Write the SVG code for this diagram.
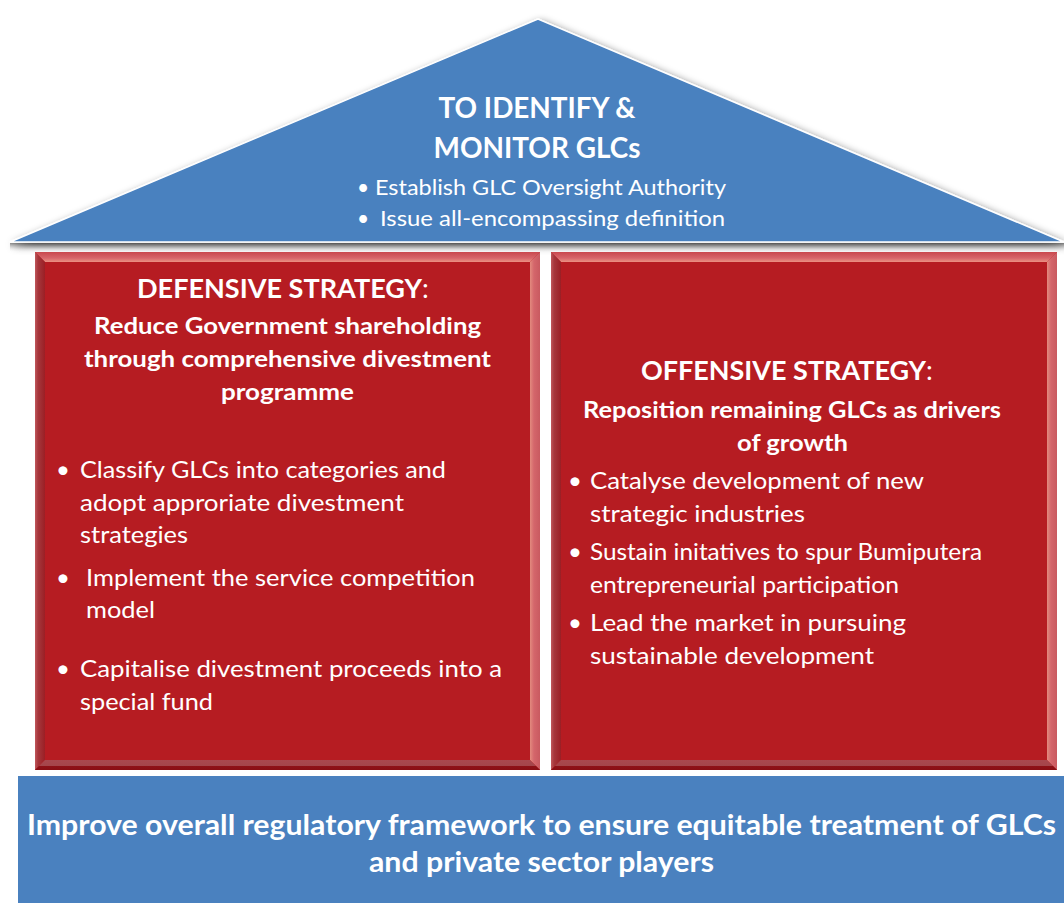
<svg xmlns="http://www.w3.org/2000/svg" width="1064" height="903" viewBox="0 0 1064 903">
<defs>
<filter id="sh" x="-10%" y="-20%" width="120%" height="140%">
<feGaussianBlur in="SourceAlpha" stdDeviation="4"/>
<feOffset dx="3" dy="3" result="b"/>
<feComponentTransfer><feFuncA type="linear" slope="0.55"/></feComponentTransfer>
<feMerge><feMergeNode/><feMergeNode in="SourceGraphic"/></feMerge>
</filter>
<linearGradient id="gTop" x1="0" y1="0" x2="0" y2="1">
<stop offset="0" stop-color="#c9484e"/><stop offset="0.6" stop-color="#d7666a"/><stop offset="1" stop-color="#eb9183"/>
</linearGradient>
<linearGradient id="gLeft" x1="0" y1="0" x2="1" y2="0">
<stop offset="0" stop-color="#c0585c"/><stop offset="0.3" stop-color="#a6373c"/><stop offset="1" stop-color="#9b1f25"/>
</linearGradient>
<linearGradient id="gRight" x1="0" y1="0" x2="1" y2="0">
<stop offset="0" stop-color="#e38a7e"/><stop offset="0.4" stop-color="#d4666b"/><stop offset="1" stop-color="#c95a60"/>
</linearGradient>
<linearGradient id="gBot" x1="0" y1="0" x2="0" y2="1">
<stop offset="0" stop-color="#a9484e"/><stop offset="0.6" stop-color="#a4454a"/><stop offset="0.61" stop-color="#8e1117"/><stop offset="1" stop-color="#8a0f14"/>
</linearGradient>
<linearGradient id="gBase" x1="0" y1="0" x2="0" y2="1">
<stop offset="0" stop-color="#8c8c8c"/><stop offset="1" stop-color="#ffffff" stop-opacity="0"/>
</linearGradient>
</defs>
<style>
.t{font-family:Lato,"Open Sans","Liberation Sans",sans-serif;fill:#ffffff}
.h{font-weight:bold}
.face{fill:#b61c22}
.blue{fill:#4a81bf}
</style>
<rect width="1064" height="903" fill="#ffffff"/>

<g id="roof">
<rect x="10" y="243" width="1054" height="9" fill="url(#gBase)"/>
<polygon points="10,242 538,19 1064,242" class="blue" stroke="#ffffff" stroke-width="1.5" filter="url(#sh)"/>
<text class="t h" x="537" y="118" font-size="28" text-anchor="middle" textLength="197" lengthAdjust="spacingAndGlyphs">TO IDENTIFY &amp;</text>
<text class="t h" x="537" y="158" font-size="28" text-anchor="middle" textLength="207" lengthAdjust="spacingAndGlyphs">MONITOR GLCs</text>
<text class="t" x="357" y="195" font-size="21">•</text>
<text class="t" x="375" y="195" font-size="21" textLength="351" lengthAdjust="spacingAndGlyphs">Establish GLC Oversight Authority</text>
<text class="t" x="357" y="226" font-size="21">•</text>
<text class="t" x="380" y="226" font-size="21" textLength="345" lengthAdjust="spacingAndGlyphs">Issue all-encompassing definition</text>
</g>

<g id="defensive">
<rect x="35" y="252" width="505" height="518" class="face"/>
<polygon points="35,252 540,252 530,262 45,262" fill="url(#gTop)"/>
<polygon points="35,252 45,262 45,760 35,770" fill="url(#gLeft)"/>
<polygon points="540,252 540,770 530,760 530,262" fill="url(#gRight)"/>
<polygon points="35,770 45,760 530,760 540,770" fill="url(#gBot)"/>
<text class="t" x="137" y="298" font-size="27"><tspan class="h" textLength="285" lengthAdjust="spacingAndGlyphs">DEFENSIVE STRATEGY</tspan>:</text>
<text class="t h" x="287.5" y="334" font-size="23" text-anchor="middle" textLength="387" lengthAdjust="spacingAndGlyphs">Reduce Government shareholding</text>
<text class="t h" x="287.5" y="367" font-size="23" text-anchor="middle" textLength="407" lengthAdjust="spacingAndGlyphs">through comprehensive divestment</text>
<text class="t h" x="287.5" y="400" font-size="23" text-anchor="middle" textLength="133" lengthAdjust="spacingAndGlyphs">programme</text>
<text class="t" x="56" y="478" font-size="24">•</text>
<text class="t" x="80" y="478" font-size="24" textLength="366" lengthAdjust="spacingAndGlyphs">Classify GLCs into categories and</text>
<text class="t" x="80" y="511" font-size="24" textLength="324" lengthAdjust="spacingAndGlyphs">adopt approriate divestment</text>
<text class="t" x="80" y="543" font-size="24" textLength="108" lengthAdjust="spacingAndGlyphs">strategies</text>
<text class="t" x="56" y="586" font-size="24">•</text>
<text class="t" x="86" y="586" font-size="24" textLength="389" lengthAdjust="spacingAndGlyphs">Implement the service competition</text>
<text class="t" x="86" y="618" font-size="24" textLength="69" lengthAdjust="spacingAndGlyphs">model</text>
<text class="t" x="56" y="677" font-size="24">•</text>
<text class="t" x="80" y="677" font-size="24" textLength="422" lengthAdjust="spacingAndGlyphs">Capitalise divestment proceeds into a</text>
<text class="t" x="80" y="710" font-size="24" textLength="133" lengthAdjust="spacingAndGlyphs">special fund</text>
</g>

<g id="offensive">
<rect x="551" y="252" width="506" height="518" class="face"/>
<polygon points="551,252 1057,252 1047,262 561,262" fill="url(#gTop)"/>
<polygon points="551,252 561,262 561,760 551,770" fill="url(#gLeft)"/>
<polygon points="1057,252 1057,770 1047,760 1047,262" fill="url(#gRight)"/>
<polygon points="551,770 561,760 1047,760 1057,770" fill="url(#gBot)"/>
<text class="t" x="641" y="380" font-size="27"><tspan class="h" textLength="285" lengthAdjust="spacingAndGlyphs">OFFENSIVE STRATEGY</tspan>:</text>
<text class="t h" x="792" y="418" font-size="23" text-anchor="middle" textLength="418" lengthAdjust="spacingAndGlyphs">Reposition remaining GLCs as drivers</text>
<text class="t h" x="792.5" y="451" font-size="23" text-anchor="middle" textLength="111" lengthAdjust="spacingAndGlyphs">of growth</text>
<text class="t" x="568" y="489" font-size="24">•</text>
<text class="t" x="590" y="489" font-size="24" textLength="334" lengthAdjust="spacingAndGlyphs">Catalyse development of new</text>
<text class="t" x="590" y="522" font-size="24" textLength="215" lengthAdjust="spacingAndGlyphs">strategic industries</text>
<text class="t" x="568" y="560" font-size="24">•</text>
<text class="t" x="590" y="560" font-size="24" textLength="392" lengthAdjust="spacingAndGlyphs">Sustain initatives to spur Bumiputera</text>
<text class="t" x="590" y="593" font-size="24" textLength="309" lengthAdjust="spacingAndGlyphs">entrepreneurial participation</text>
<text class="t" x="568" y="631" font-size="24">•</text>
<text class="t" x="590" y="631" font-size="24" textLength="316" lengthAdjust="spacingAndGlyphs">Lead the market in pursuing</text>
<text class="t" x="590" y="664" font-size="24" textLength="284" lengthAdjust="spacingAndGlyphs">sustainable development</text>
</g>

<g id="foundation">
<rect x="18" y="776" width="1046" height="127" class="blue"/>
<text class="t h" x="541.5" y="835" font-size="28" text-anchor="middle" textLength="1029" lengthAdjust="spacingAndGlyphs">Improve overall regulatory framework to ensure equitable treatment of GLCs</text>
<text class="t h" x="541.5" y="872" font-size="28" text-anchor="middle" textLength="345" lengthAdjust="spacingAndGlyphs">and private sector players</text>
</g>

<g id="connectors"></g>
</svg>
